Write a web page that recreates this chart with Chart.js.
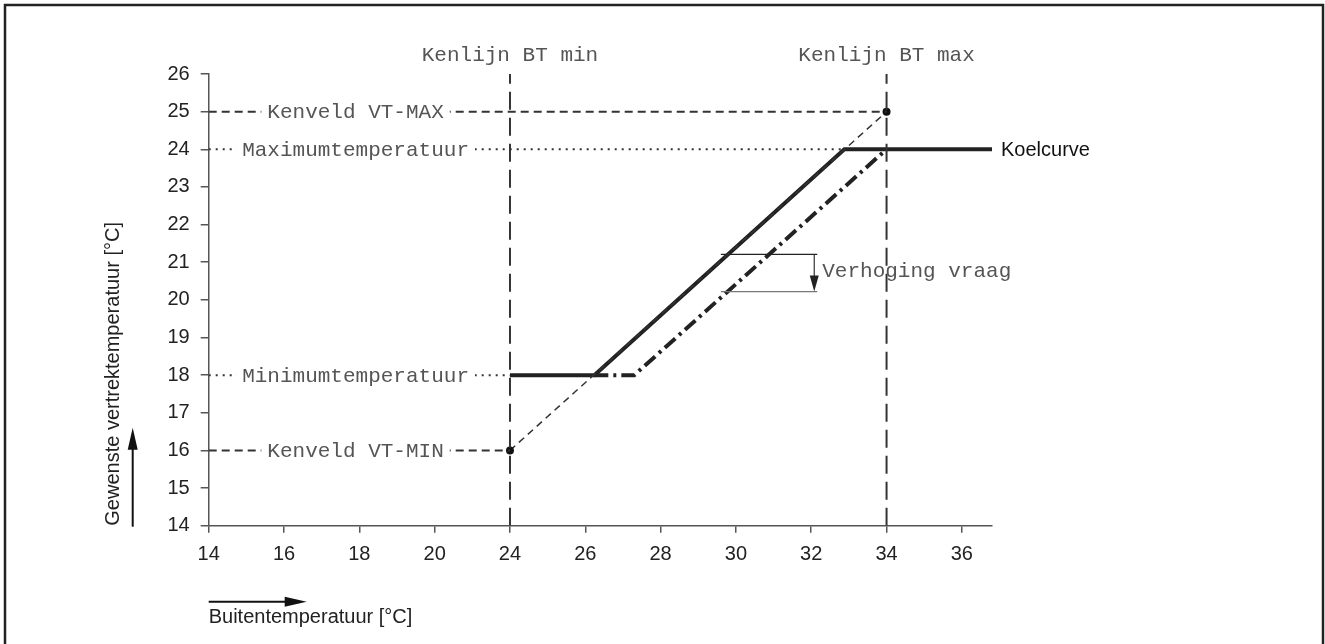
<!DOCTYPE html>
<html>
<head>
<meta charset="utf-8">
<script src="https://cdn.jsdelivr.net/npm/chart.js@4.4.1/dist/chart.umd.min.js"></script>
<style>
  html, body { margin: 0; padding: 0; background: #fff; }
  canvas { display: block; }
</style>
</head>
<body>
<canvas id="chart" width="1325" height="644"></canvas>
<script>
// tick labels (x axis is broken between 20 and 24, equal spacing)
const xTicks = [14, 16, 18, 20, 24, 26, 28, 30, 32, 34, 36];
const yMin = 14;
const yMax = 26;

// Koelcurve (solid)
const koelX = [24, 26.24, 32.88, 36.8];
const koelY = [18, 18, 24, 24];

// verhoogde curve (dash-dot)
const verhoogdX = [26.24, 27.3, 34];
const verhoogdY = [18, 18, 24];

// kenveld lijn VT-MIN -> VT-MAX (thin dashed)
const kenveldX = [24, 34];
const kenveldY = [16, 25];

// reference levels
const vtMax = 25;
const vtMin = 16;
const maxTemp = 24;
const minTemp = 18;
const btMin = 24;
const btMax = 34;

// verhoging vraag markers
const vraagX = [29.6, 32.16];
const vraagTop = 21.21;
const vraagBottom = 20.22;

// map a temperature onto the evenly spaced tick positions
function toPos(t) {
  for (let i = 0; i < xTicks.length - 1; i++) {
    if (t <= xTicks[i + 1]) {
      return i + (t - xTicks[i]) / (xTicks[i + 1] - xTicks[i]);
    }
  }
  const last = xTicks.length - 1;
  return last + (t - xTicks[last]) / (xTicks[last] - xTicks[last - 1]);
}

function pts(xs, ys) {
  return xs.map((x, i) => ({ x: toPos(x), y: ys[i] }));
}

const ink = '#222';
const grey = '#333';
const mono = '"Liberation Mono", "Courier New", monospace';
const sans = '"Liberation Sans", Arial, Helvetica, sans-serif';

function line(data, opts) {
  return Object.assign({
    data: data,
    showLine: true,
    borderColor: grey,
    borderWidth: 2,
    pointRadius: 0,
    fill: false,
    tension: 0,
  }, opts);
}

const datasets = [
  line(pts([btMin, btMin], [yMin, yMax]), { borderDash: [18, 8] }),
  line(pts([btMax, btMax], [yMin, yMax]), { borderDash: [18, 8] }),
  line(pts([xTicks[0], btMax], [vtMax, vtMax]), { borderDash: [8, 5] }),
  line(pts([xTicks[0], btMin], [vtMin, vtMin]), { borderDash: [8, 5] }),
  line(pts([xTicks[0], koelX[2]], [maxTemp, maxTemp]), { borderDash: [2, 5] }),
  line(pts([xTicks[0], btMin], [minTemp, minTemp]), { borderDash: [2, 5] }),
  line(pts(kenveldX, kenveldY), {
    borderDash: [7, 5], borderWidth: 1.5,
    pointRadius: 4, pointBackgroundColor: '#111', pointBorderWidth: 0,
  }),
  line(pts(vraagX, [vraagTop, vraagTop]), { borderWidth: 1.2, borderColor: '#222' }),
  line(pts(vraagX, [vraagBottom, vraagBottom]), { borderWidth: 1.2, borderColor: '#777' }),
  line(pts(verhoogdX, verhoogdY), { borderColor: ink, borderWidth: 4, borderDash: [14, 5, 3, 5] }),
  line(pts(koelX, koelY), { borderColor: ink, borderWidth: 4 }),
];

// text labels sitting on the reference lines
const lineLabels = [
  { text: 'Kenveld VT-MAX', x: 17.9, y: vtMax },
  { text: 'Maximumtemperatuur', x: 17.9, y: maxTemp },
  { text: 'Minimumtemperatuur', x: 17.9, y: minTemp },
  { text: 'Kenveld VT-MIN', x: 17.9, y: vtMin },
];

const annotations = {
  id: 'annotations',
  beforeDraw(chart) {
    const ctx = chart.ctx;
    ctx.save();
    ctx.strokeStyle = '#222';
    ctx.lineWidth = 2.5;
    ctx.beginPath();
    ctx.moveTo(5, chart.height + 2);
    ctx.lineTo(5, 5);
    ctx.lineTo(chart.width - 2, 5);
    ctx.lineTo(chart.width - 2, chart.height + 2);
    ctx.stroke();
    ctx.restore();
  },
  afterDatasetsDraw(chart) {
    const ctx = chart.ctx;
    const xs = chart.scales.x;
    const ys = chart.scales.y;
    const area = chart.chartArea;
    const textGrey = '#555';
    ctx.save();

    ctx.font = '21px ' + mono;
    ctx.textBaseline = 'middle';

    lineLabels.forEach(l => {
      const px = xs.getPixelForValue(toPos(l.x));
      const py = ys.getPixelForValue(l.y);
      const w = ctx.measureText(l.text).width;
      ctx.fillStyle = '#fff';
      ctx.fillRect(px - w / 2 - 6, py - 8, w + 12, 16);
      ctx.fillStyle = textGrey;
      ctx.textAlign = 'center';
      ctx.fillText(l.text, px, py + 1);
    });

    // Kenlijn labels above the vertical lines
    ctx.fillStyle = textGrey;
    ctx.textAlign = 'center';
    ctx.fillText('Kenlijn BT min', xs.getPixelForValue(toPos(btMin)), area.top - 19);
    ctx.fillText('Kenlijn BT max', xs.getPixelForValue(toPos(btMax)), area.top - 19);

    // Verhoging vraag arrow + text
    const ax = xs.getPixelForValue(toPos(32.08));
    const aTop = ys.getPixelForValue(vraagTop);
    const aBot = ys.getPixelForValue(vraagBottom);
    ctx.strokeStyle = '#333';
    ctx.lineWidth = 1.2;
    ctx.beginPath();
    ctx.moveTo(ax, aTop);
    ctx.lineTo(ax, aBot - 12);
    ctx.stroke();
    ctx.fillStyle = '#222';
    ctx.beginPath();
    ctx.moveTo(ax - 4.5, aBot - 16);
    ctx.lineTo(ax + 4.5, aBot - 16);
    ctx.lineTo(ax, aBot);
    ctx.closePath();
    ctx.fill();
    ctx.fillStyle = textGrey;
    ctx.textAlign = 'left';
    ctx.fillText('Verhoging vraag', ax + 8, (aTop + aBot) / 2 - 1);

    // Koelcurve label
    ctx.font = '20px ' + sans;
    ctx.fillStyle = '#111';
    ctx.fillText('Koelcurve', xs.getPixelForValue(toPos(koelX[3])) + 9, ys.getPixelForValue(maxTemp) + 1);

    // axis arrows
    ctx.strokeStyle = '#111';
    ctx.fillStyle = '#111';
    ctx.lineWidth = 2;
    const yx = area.left - 76;
    ctx.beginPath();
    ctx.moveTo(yx, area.bottom + 1);
    ctx.lineTo(yx, area.bottom - 80);
    ctx.stroke();
    ctx.beginPath();
    ctx.moveTo(yx - 5, area.bottom - 76);
    ctx.lineTo(yx + 5, area.bottom - 76);
    ctx.lineTo(yx, area.bottom - 98);
    ctx.closePath();
    ctx.fill();

    const xy = area.bottom + 76;
    ctx.beginPath();
    ctx.moveTo(area.left, xy);
    ctx.lineTo(area.left + 80, xy);
    ctx.stroke();
    ctx.beginPath();
    ctx.moveTo(area.left + 76, xy - 5);
    ctx.lineTo(area.left + 76, xy + 5);
    ctx.lineTo(area.left + 98, xy);
    ctx.closePath();
    ctx.fill();

    ctx.restore();
  }
};

new Chart(document.getElementById('chart'), {
  type: 'scatter',
  data: { datasets: datasets },
  options: {
    responsive: false,
    animation: false,
    devicePixelRatio: 1,
    layout: { padding: { left: 0, top: 74, right: 333, bottom: 0 } },
    plugins: {
      legend: { display: false },
      tooltip: { enabled: false },
    },
    scales: {
      x: {
        type: 'linear',
        min: 0,
        max: toPos(koelX[3]),
        afterFit(scale) { scale.height = 118.3; },
        afterBuildTicks(scale) {
          scale.ticks = xTicks.map((v, i) => ({ value: i }));
        },
        grid: { drawOnChartArea: false, drawTicks: true, tickLength: 7, tickColor: '#555', lineWidth: 1.5 },
        border: { display: true, color: '#555', width: 1.5 },
        ticks: {
          padding: 10,
          color: '#222',
          font: { family: sans, size: 20 },
          maxRotation: 0,
          callback: (v) => xTicks[v],
        },
        title: {
          display: true,
          text: 'Buitentemperatuur [°C]',
          align: 'start',
          color: '#222',
          font: { family: sans, size: 20 },
          padding: { top: 0, bottom: 15 },
        },
      },
      y: {
        type: 'linear',
        min: yMin,
        max: yMax,
        afterFit(scale) { scale.width = 208.7; },
        grid: { drawOnChartArea: false, drawTicks: true, tickLength: 8, tickColor: '#555', lineWidth: 1.5 },
        border: { display: true, color: '#555', width: 1.5 },
        ticks: {
          stepSize: 1,
          padding: 11,
          color: '#222',
          font: { family: sans, size: 20 },
        },
        title: {
          display: true,
          text: 'Gewenste vertrektemperatuur [°C]',
          align: 'start',
          color: '#222',
          font: { family: sans, size: 20 },
          padding: { top: 101, bottom: 0 },
        },
      },
    },
  },
  plugins: [annotations],
});
</script>
</body>
</html>
